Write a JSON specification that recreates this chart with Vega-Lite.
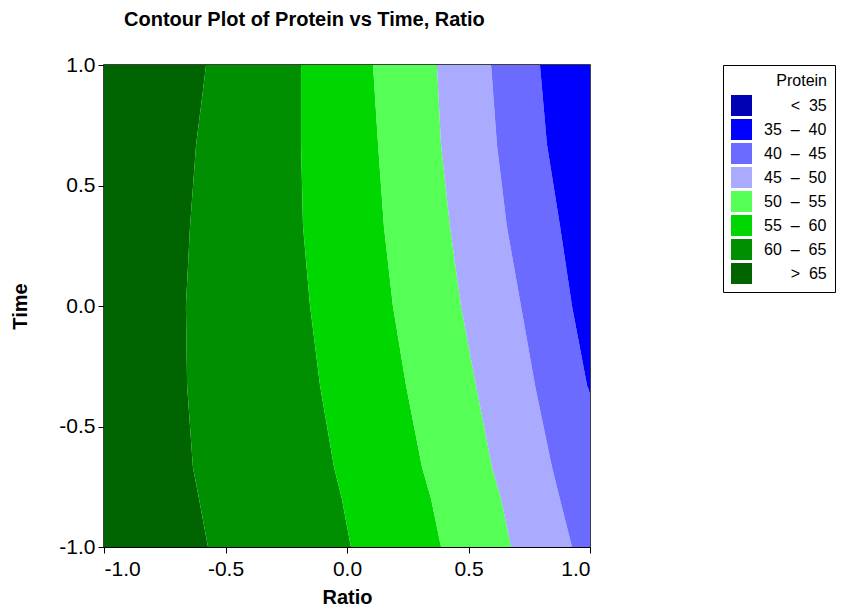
{
  "$schema": "https://vega.github.io/schema/vega-lite/v6.json",
  "width": 486,
  "height": 482,
  "autosize": {"type": "none"},
  "padding": {"left": 104, "top": 65, "right": 263, "bottom": 64},
  "background": "white",
  "title": {
    "text": "Contour Plot of Protein vs Time, Ratio",
    "anchor": "start",
    "frame": "group",
    "dx": 20,
    "offset": 24,
    "font": "Liberation Sans",
    "fontSize": 20,
    "fontWeight": "bold",
    "color": "black"
  },
  "data": {
    "values": [
      {"band": "> 65", "time": 1.0, "lo": -1, "hi": -0.580},
      {"band": "> 65", "time": 0.86, "lo": -1, "hi": -0.597},
      {"band": "> 65", "time": 0.67, "lo": -1, "hi": -0.621},
      {"band": "> 65", "time": 0.33, "lo": -1, "hi": -0.646},
      {"band": "> 65", "time": 0.0, "lo": -1, "hi": -0.663},
      {"band": "> 65", "time": -0.33, "lo": -1, "hi": -0.658},
      {"band": "> 65", "time": -0.67, "lo": -1, "hi": -0.634},
      {"band": "> 65", "time": -0.8, "lo": -1, "hi": -0.609},
      {"band": "> 65", "time": -1.0, "lo": -1, "hi": -0.572},

      {"band": "60 – 65", "time": 1.0, "lo": -0.580, "hi": -0.189},
      {"band": "60 – 65", "time": 0.86, "lo": -0.597, "hi": -0.189},
      {"band": "60 – 65", "time": 0.67, "lo": -0.621, "hi": -0.189},
      {"band": "60 – 65", "time": 0.33, "lo": -0.646, "hi": -0.181},
      {"band": "60 – 65", "time": 0.0, "lo": -0.663, "hi": -0.152},
      {"band": "60 – 65", "time": -0.33, "lo": -0.658, "hi": -0.111},
      {"band": "60 – 65", "time": -0.67, "lo": -0.634, "hi": -0.053},
      {"band": "60 – 65", "time": -0.8, "lo": -0.609, "hi": -0.021},
      {"band": "60 – 65", "time": -1.0, "lo": -0.572, "hi": 0.016},

      {"band": "55 – 60", "time": 1.0, "lo": -0.189, "hi": 0.107},
      {"band": "55 – 60", "time": 0.67, "lo": -0.189, "hi": 0.128},
      {"band": "55 – 60", "time": 0.33, "lo": -0.181, "hi": 0.152},
      {"band": "55 – 60", "time": 0.0, "lo": -0.152, "hi": 0.189},
      {"band": "55 – 60", "time": -0.33, "lo": -0.111, "hi": 0.243},
      {"band": "55 – 60", "time": -0.67, "lo": -0.053, "hi": 0.309},
      {"band": "55 – 60", "time": -0.8, "lo": -0.021, "hi": 0.346},
      {"band": "55 – 60", "time": -1.0, "lo": 0.016, "hi": 0.387},

      {"band": "50 – 55", "time": 1.0, "lo": 0.107, "hi": 0.370},
      {"band": "50 – 55", "time": 0.67, "lo": 0.128, "hi": 0.387},
      {"band": "50 – 55", "time": 0.33, "lo": 0.152, "hi": 0.424},
      {"band": "50 – 55", "time": 0.0, "lo": 0.189, "hi": 0.469},
      {"band": "50 – 55", "time": -0.33, "lo": 0.243, "hi": 0.531},
      {"band": "50 – 55", "time": -0.67, "lo": 0.309, "hi": 0.597},
      {"band": "50 – 55", "time": -0.8, "lo": 0.346, "hi": 0.634},
      {"band": "50 – 55", "time": -1.0, "lo": 0.387, "hi": 0.675},

      {"band": "45 – 50", "time": 1.0, "lo": 0.370, "hi": 0.593},
      {"band": "45 – 50", "time": 0.67, "lo": 0.387, "hi": 0.617},
      {"band": "45 – 50", "time": 0.33, "lo": 0.424, "hi": 0.658},
      {"band": "45 – 50", "time": 0.0, "lo": 0.469, "hi": 0.716},
      {"band": "45 – 50", "time": -0.33, "lo": 0.531, "hi": 0.774},
      {"band": "45 – 50", "time": -0.67, "lo": 0.597, "hi": 0.844},
      {"band": "45 – 50", "time": -0.8, "lo": 0.634, "hi": 0.876},
      {"band": "45 – 50", "time": -1.0, "lo": 0.675, "hi": 0.926},

      {"band": "40 – 45", "time": 1.0, "lo": 0.593, "hi": 0.794},
      {"band": "40 – 45", "time": 0.67, "lo": 0.617, "hi": 0.823},
      {"band": "40 – 45", "time": 0.33, "lo": 0.658, "hi": 0.877},
      {"band": "40 – 45", "time": 0.0, "lo": 0.716, "hi": 0.926},
      {"band": "40 – 45", "time": -0.33, "lo": 0.774, "hi": 0.988},
      {"band": "40 – 45", "time": -0.36, "lo": 0.780, "hi": 1.0},
      {"band": "40 – 45", "time": -0.67, "lo": 0.844, "hi": 1.0},
      {"band": "40 – 45", "time": -0.8, "lo": 0.876, "hi": 1.0},
      {"band": "40 – 45", "time": -1.0, "lo": 0.926, "hi": 1.0},

      {"band": "35 – 40", "time": 1.0, "lo": 0.794, "hi": 1.0},
      {"band": "35 – 40", "time": 0.67, "lo": 0.823, "hi": 1.0},
      {"band": "35 – 40", "time": 0.33, "lo": 0.877, "hi": 1.0},
      {"band": "35 – 40", "time": 0.0, "lo": 0.926, "hi": 1.0},
      {"band": "35 – 40", "time": -0.33, "lo": 0.988, "hi": 1.0},
      {"band": "35 – 40", "time": -0.36, "lo": 1.0, "hi": 1.0}
    ]
  },
  "mark": {"type": "area", "orient": "horizontal", "interpolate": "linear", "stroke": null, "strokeWidth": 0, "opacity": 1},
  "encoding": {
    "y": {
      "field": "time",
      "type": "quantitative",
      "scale": {"domain": [-1, 1], "nice": false, "zero": false},
      "axis": {
        "title": "Time",
        "values": [-1, -0.5, 0, 0.5, 1],
        "format": ".1f",
        "labelExpr": "replace(datum.label, '\u2212', '-')",
        "grid": false,
        "titleX": -74
      }
    },
    "x": {
      "field": "lo",
      "type": "quantitative",
      "stack": null,
      "scale": {"domain": [-1, 1], "nice": false, "zero": false},
      "axis": {
        "title": "Ratio",
        "values": [-1, -0.5, 0, 0.5, 1],
        "format": ".1f",
        "labelExpr": "replace(datum.label, '\u2212', '-')",
        "grid": false
      }
    },
    "x2": {"field": "hi"},
    "color": {
      "field": "band",
      "type": "nominal",
      "scale": {
        "domain": ["< 35", "35 – 40", "40 – 45", "45 – 50", "50 – 55", "55 – 60", "60 – 65", "> 65"],
        "range": ["#0000B4", "#0000FF", "#6B6BFF", "#AAAAFF", "#55FF55", "#00D700", "#008F00", "#006400"]
      },
      "legend": {
        "title": "Protein",
        "orient": "none",
        "legendX": 619,
        "legendY": 0,
        "symbolType": "square",
        "symbolSize": 441,
        "symbolStrokeWidth": 0,
        "symbolOpacity": 1,
        "labelExpr": "datum.label == '< 35' ? '\u200b\u2007\u2007\u00a0\u00a0<\u00a0\u00a035' : datum.label == '> 65' ? '\u200b\u2007\u2007\u00a0\u00a0>\u00a0\u00a065' : replace(datum.label, ' \u2013 ', '\u00a0\u00a0\u2013\u00a0\u00a0')",
        "rowPadding": 3,
        "labelOffset": 12,
        "padding": 8,
        "titlePadding": 6,
        "strokeColor": "black",
        "fillColor": "white",
        "titleAnchor": "end",
        "titleFontWeight": "normal",
        "titleFontSize": 16,
        "labelFontSize": 16,
        "titleColor": "black",
        "labelColor": "black",
        "titleFont": "Liberation Sans",
        "labelFont": "Liberation Sans"
      }
    }
  },
  "config": {
    "view": {"stroke": "black", "strokeWidth": 1.5},
    "axis": {
      "labelFont": "Liberation Sans",
      "titleFont": "Liberation Sans",
      "labelFontSize": 21,
      "titleFontSize": 20,
      "titleFontWeight": "bold",
      "labelColor": "black",
      "titleColor": "black",
      "domainColor": "black",
      "tickColor": "black",
      "tickSize": 6,
      "labelPadding": 2
    },
    "axisX": {"titlePadding": 8, "labelPadding": 5},
    "axisY": {"labelPadding": 3}
  }
}
